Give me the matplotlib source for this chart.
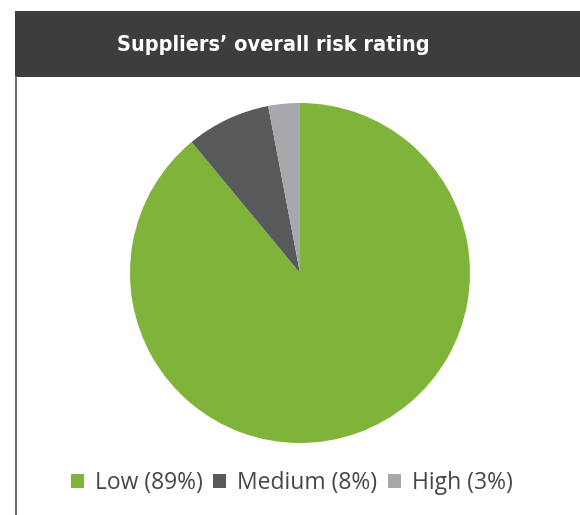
import matplotlib.pyplot as plt
import matplotlib.patches as mpatches
from matplotlib.lines import Line2D

# data
labels = ["Low", "Medium", "High"]
shares = [89, 8, 3]
colors = ["#80B33A", "#58595B", "#A7A8AC"]

W, H = 580, 515
fig = plt.figure(figsize=(W / 100, H / 100), dpi=100)
fig.patch.set_facecolor("white")

# header bar
fig.patches.append(mpatches.Rectangle((15 / W, 1 - 77 / H), 1, 66 / H,
                                      transform=fig.transFigure, facecolor="#3D3D3D",
                                      edgecolor="none", zorder=1))
fig.text(273 / W, 1 - 45 / H, "Suppliers\u2019 overall risk rating", color="white",
         fontsize=15.5, fontweight="heavy", fontstretch="condensed", family="DejaVu Sans",
         ha="center", va="center")
# left frame line
fig.lines.append(Line2D([15.5 / W, 15.5 / W], [0, 1 - 77 / H], transform=fig.transFigure,
                        color="#6E6E6E", linewidth=1.4))

# pie
cx, cy, r = 300, 273, 170
ax = fig.add_axes([(cx - r) / W, (H - cy - r) / H, 2 * r / W, 2 * r / H])
ax.pie(shares, colors=colors, startangle=90, counterclock=False, radius=1,
       wedgeprops=dict(linewidth=0))
ax.set_xlim(-1, 1)
ax.set_ylim(-1, 1)
ax.set_aspect("equal")

# legend
handles = [mpatches.Patch(facecolor=c, edgecolor="none") for c in colors]
legend_labels = [f"{l} ({s}%)" for l, s in zip(labels, shares)]
fig.legend(handles, legend_labels, loc="center", bbox_to_anchor=(292 / W, 1 - 483 / H),
           ncol=3, frameon=False, handlelength=0.55, handleheight=0.55,
           handletextpad=0.5, columnspacing=0.45,
           prop=dict(family="Open Sans", size=16.5), labelcolor="#474747")

fig.savefig("out.png", dpi=100)
